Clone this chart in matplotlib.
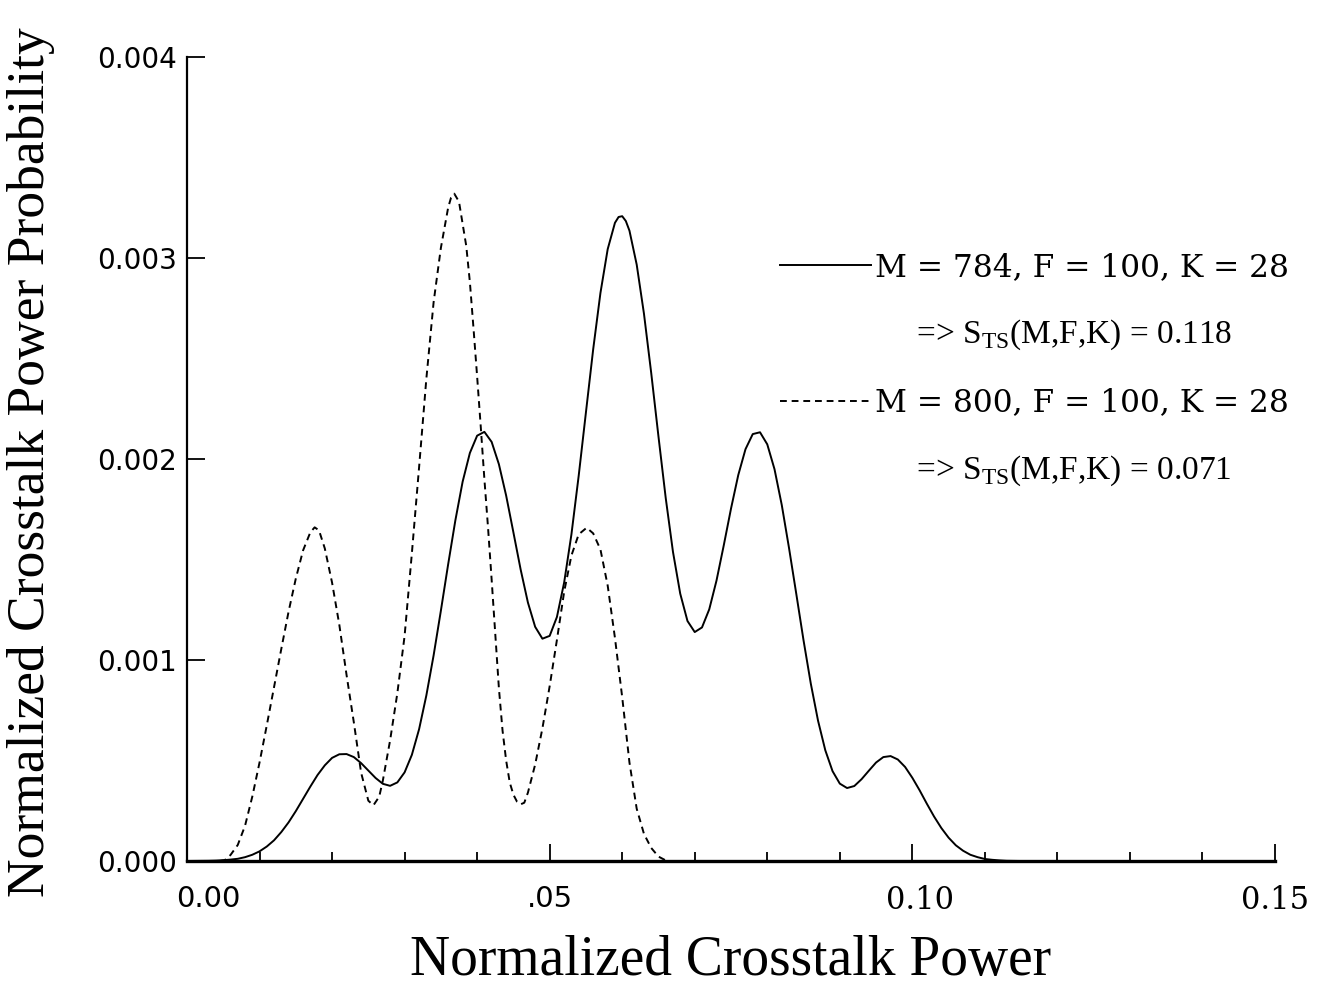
import numpy as np
import matplotlib
matplotlib.use("Agg")
import matplotlib.pyplot as plt
import matplotlib.transforms as mtransforms
from matplotlib.lines import Line2D

# curves, x and y both in units of 1e-3
x_784 = [0, 3, 4, 5, 6, 7, 8, 9, 10, 11, 12, 13, 14, 15, 16, 17, 18, 19, 20,
         21, 22, 23, 24, 25, 26, 27, 28, 29, 30, 31, 32, 33, 34, 35, 36, 37,
         38, 39, 40, 41, 42, 43, 44, 45, 46, 47, 48, 49, 50, 51, 52, 53, 54,
         55, 56, 57, 58, 59, 59.5, 60, 60.5, 61, 62, 63, 64, 65, 66, 67, 68,
         69, 70, 71, 72, 73, 74, 75, 76, 77, 78, 79, 80, 81, 82, 83, 84, 85,
         86, 87, 88, 89, 90, 91, 92, 93, 94, 95, 96, 97, 98, 99, 100, 101,
         102, 103, 104, 105, 106, 107, 108, 109, 110, 111, 112, 113, 115]
p_784 = [0.0, 0.001, 0.002, 0.004, 0.007, 0.011, 0.019, 0.031, 0.048, 0.072,
         0.103, 0.144, 0.192, 0.248, 0.309, 0.370, 0.428, 0.476, 0.513, 0.531,
         0.532, 0.517, 0.487, 0.450, 0.413, 0.384, 0.374, 0.391, 0.441, 0.528,
         0.656, 0.824, 1.023, 1.245, 1.475, 1.695, 1.887, 2.030, 2.116, 2.135,
         2.085, 1.974, 1.818, 1.635, 1.450, 1.286, 1.165, 1.106, 1.120, 1.214,
         1.386, 1.625, 1.916, 2.232, 2.546, 2.826, 3.044, 3.175, 3.204, 3.208,
         3.184, 3.136, 2.967, 2.723, 2.428, 2.112, 1.806, 1.538, 1.330, 1.194,
         1.139, 1.162, 1.252, 1.395, 1.570, 1.753, 1.920, 2.049, 2.124, 2.133,
         2.073, 1.949, 1.771, 1.557, 1.329, 1.098, 0.883, 0.698, 0.551, 0.447,
         0.385, 0.363, 0.373, 0.407, 0.449, 0.490, 0.517, 0.522, 0.505, 0.468,
         0.414, 0.352, 0.285, 0.221, 0.164, 0.116, 0.078, 0.051, 0.031, 0.019,
         0.010, 0.006, 0.003, 0.001, 0.0]

x_800 = [4.5, 5.2, 6, 7, 8, 9, 10, 11, 12, 13, 14, 15, 16, 17, 17.6, 18.2, 19,
         20, 21, 22, 23, 24, 25, 25.7, 26.5, 27, 28, 29, 30, 31, 32, 33, 34, 35,
         36, 36.4, 36.85, 37.5, 38, 38.5, 39, 39.5, 40, 40.5, 41, 41.5, 42,
         42.5, 43, 43.5, 44, 44.5, 45, 45.5, 46, 46.5, 47, 48, 49, 50, 51, 52,
         53, 54, 55.1, 56, 57, 58, 59, 60, 61, 62, 63, 64, 65, 66, 66.5]
p_800 = [0.0, 0.004, 0.03, 0.08, 0.175, 0.32, 0.49, 0.675, 0.865, 1.055, 1.24,
         1.405, 1.545, 1.635, 1.66, 1.645, 1.555, 1.385, 1.175, 0.925, 0.69,
         0.44, 0.30, 0.277, 0.32, 0.40, 0.60, 0.835, 1.12, 1.53, 1.96, 2.40,
         2.78, 3.05, 3.25, 3.30, 3.32, 3.28, 3.17, 3.06, 2.88, 2.65, 2.41, 2.16,
         1.90, 1.66, 1.40, 1.13, 0.86, 0.65, 0.50, 0.39, 0.33, 0.295, 0.282,
         0.29, 0.34, 0.48, 0.66, 0.87, 1.10, 1.34, 1.52, 1.625, 1.658, 1.63,
         1.55, 1.37, 1.11, 0.815, 0.49, 0.26, 0.135, 0.065, 0.022, 0.003, 0.0]

label_784 = "M = 784, F = 100, K = 28"
score_784 = r"     => S$_{\rm TS}$(M,F,K) = 0.118"
label_800 = "M = 800, F = 100, K = 28"
score_800 = r"     => S$_{\rm TS}$(M,F,K) = 0.071"

xtick_vals = [0.0, 0.05, 0.10, 0.15]
xtick_text = ["0.00", ".05", "0.10", "0.15"]
xminor_vals = [0.01, 0.02, 0.03, 0.04, 0.06, 0.07, 0.08, 0.09,
               0.11, 0.12, 0.13, 0.14]
ytick_vals = [0.0, 0.001, 0.002, 0.003, 0.004]
ytick_text = ["0.000", "0.001", "0.002", "0.003", "0.004"]

plt.rcParams['mathtext.fontset'] = 'custom'
plt.rcParams['mathtext.rm'] = 'Liberation Serif'

W, H = 1328, 985
fig = plt.figure(figsize=(W / 100, H / 100), dpi=100, facecolor='white')
ax = fig.add_axes([187 / W, 124 / H, 1088 / W, 804 / H])

l1, = ax.plot(np.array(x_784) / 1000, np.array(p_784) / 1000,
              color='black', lw=1.4)
l2, = ax.plot(np.array(x_800) / 1000, np.array(p_800) / 1000,
              color='black', lw=1.4, dashes=(3.5, 2.5))

ax.set_xlim(0, 0.15)
ax.set_ylim(0, 0.004)

for s in ['top', 'right']:
    ax.spines[s].set_visible(False)
ax.spines['bottom'].set_linewidth(2.4)
ax.spines['left'].set_linewidth(1.6)

ax.set_xticks(xtick_vals)
ax.set_xticklabels(xtick_text)
ax.set_xticks(xminor_vals, minor=True)
ax.set_yticks(ytick_vals)
ax.set_yticklabels(ytick_text)

ax.tick_params(axis='x', which='major', direction='in', length=12,
               width=1.3, pad=17)
ax.tick_params(axis='x', which='minor', direction='in', length=6.5,
               width=1.3)
ax.tick_params(axis='y', which='major', direction='in', length=13,
               width=1.3, pad=7)

fig.text(731 / W, 1 - 975 / H, "Normalized Crosstalk Power",
         ha='center', va='baseline', family='Liberation Serif', size=40)
fig.text(31 / W, 1 - 462 / H, "Normalized Crosstalk Power Probability",
         ha='center', va='center', rotation=90,
         family='Liberation Serif', size=38.5)

blank = Line2D([], [], linestyle='none')
leg = ax.legend([l1, blank, l2, blank],
                [label_784, score_784, label_800, score_800],
                loc='upper left', bbox_to_anchor=(780 / W, 1 - 252 / H),
                bbox_transform=fig.transFigure, frameon=False,
                prop={'family': 'DejaVu Serif', 'size': 22.5},
                handlelength=2.9, handletextpad=0.15, labelspacing=1.12,
                borderpad=0, borderaxespad=0)
for t in leg.get_texts()[1::2]:
    t.set_fontfamily('Liberation Serif')
    t.set_fontsize(24)

fig.canvas.draw()
for lab in ax.get_yticklabels():
    lab.set_fontfamily('DejaVu Sans')
    lab.set_fontsize(20)
xl = ax.get_xticklabels()
for lab in xl[:2]:
    lab.set_fontfamily('DejaVu Sans')
    lab.set_fontsize(21)
for lab in xl[2:]:
    lab.set_fontfamily('DejaVu Serif')
    lab.set_fontsize(22)
# "0.00" and "0.10" sit a little right of their ticks
xl[0].set_transform(xl[0].get_transform() +
                    mtransforms.ScaledTranslation(0.21, 0, fig.dpi_scale_trans))
xl[2].set_transform(xl[2].get_transform() +
                    mtransforms.ScaledTranslation(0.08, 0, fig.dpi_scale_trans))

fig.savefig("out.png", dpi=100, facecolor='white')
